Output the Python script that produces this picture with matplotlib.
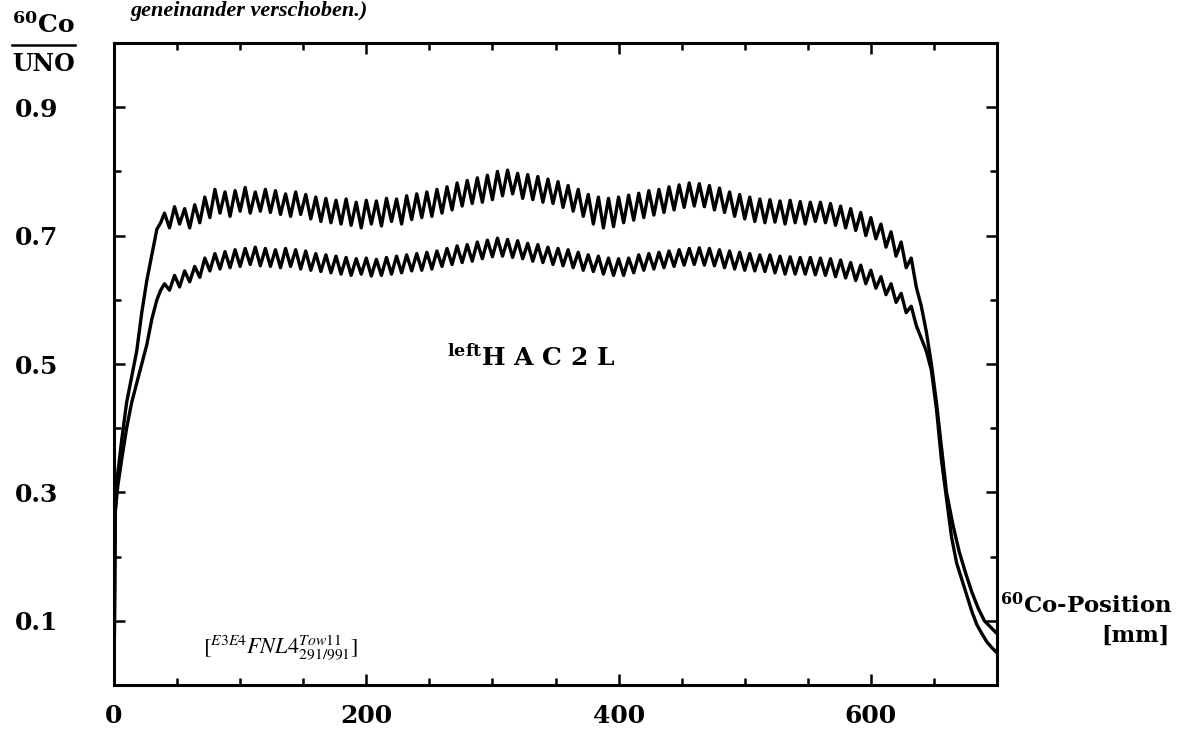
import numpy as np
import matplotlib
matplotlib.use("Agg")
import matplotlib.pyplot as plt
from matplotlib.ticker import MultipleLocator, FixedLocator

plt.rcParams['mathtext.fontset'] = 'dejavuserif'
plt.rcParams['font.family'] = 'DejaVu Serif'

# ---------------- data ----------------
# rising edge
rise_x = [0, 1, 3, 6, 10, 14, 18, 22, 26, 30, 34, 37]
rise_upper = [0.0, 0.27, 0.33, 0.38, 0.44, 0.48, 0.52, 0.58, 0.63, 0.67, 0.71, 0.72]
rise_lower = [0.0, 0.27, 0.31, 0.35, 0.40, 0.44, 0.47, 0.50, 0.53, 0.57, 0.60, 0.615]

# plateau ripple: peaks at 40,48,...,632 ; troughs at 44,52,...,636
peak_x = np.arange(40, 633, 8)
trough_x = np.arange(44, 637, 8)

upper_peaks = [0.735, 0.745, 0.742, 0.748, 0.760, 0.772, 0.768, 0.770, 0.775, 0.768,
               0.772, 0.770, 0.765, 0.768, 0.764, 0.760, 0.758, 0.755, 0.757, 0.752,
               0.755, 0.754, 0.758, 0.757, 0.762, 0.765, 0.768, 0.772, 0.776, 0.782,
               0.786, 0.790, 0.794, 0.800, 0.802, 0.797, 0.795, 0.792, 0.788, 0.784,
               0.778, 0.772, 0.764, 0.760, 0.758, 0.760, 0.763, 0.766, 0.770, 0.772,
               0.776, 0.779, 0.782, 0.781, 0.778, 0.774, 0.768, 0.764, 0.760, 0.757,
               0.756, 0.754, 0.755, 0.753, 0.752, 0.752, 0.750, 0.746, 0.742, 0.736,
               0.728, 0.718, 0.706, 0.690, 0.665]
upper_troughs = [0.712, 0.718, 0.712, 0.720, 0.728, 0.735, 0.730, 0.738, 0.735, 0.738,
                 0.736, 0.733, 0.730, 0.733, 0.726, 0.722, 0.720, 0.718, 0.716, 0.712,
                 0.718, 0.715, 0.722, 0.718, 0.725, 0.728, 0.730, 0.735, 0.740, 0.746,
                 0.750, 0.752, 0.756, 0.762, 0.765, 0.758, 0.756, 0.752, 0.750, 0.744,
                 0.738, 0.730, 0.718, 0.712, 0.714, 0.720, 0.724, 0.728, 0.732, 0.736,
                 0.740, 0.744, 0.746, 0.745, 0.740, 0.736, 0.730, 0.726, 0.722, 0.720,
                 0.721, 0.718, 0.720, 0.718, 0.722, 0.720, 0.716, 0.712, 0.708, 0.700,
                 0.695, 0.682, 0.668, 0.650, 0.620]
lower_peaks = [0.625, 0.638, 0.645, 0.652, 0.665, 0.672, 0.675, 0.678, 0.680, 0.682,
               0.680, 0.678, 0.680, 0.678, 0.676, 0.672, 0.670, 0.668, 0.666, 0.664,
               0.665, 0.663, 0.666, 0.668, 0.670, 0.672, 0.674, 0.676, 0.680, 0.684,
               0.686, 0.690, 0.693, 0.696, 0.694, 0.692, 0.688, 0.686, 0.682, 0.680,
               0.678, 0.674, 0.670, 0.668, 0.665, 0.664, 0.665, 0.670, 0.672, 0.674,
               0.676, 0.678, 0.680, 0.681, 0.680, 0.678, 0.676, 0.674, 0.672, 0.670,
               0.670, 0.668, 0.667, 0.666, 0.666, 0.665, 0.664, 0.662, 0.658, 0.654,
               0.646, 0.636, 0.625, 0.610, 0.590]
lower_troughs = [0.615, 0.620, 0.628, 0.635, 0.645, 0.648, 0.650, 0.652, 0.655, 0.653,
                 0.652, 0.650, 0.652, 0.648, 0.646, 0.644, 0.642, 0.640, 0.638, 0.640,
                 0.637, 0.638, 0.640, 0.642, 0.645, 0.646, 0.648, 0.652, 0.655, 0.658,
                 0.660, 0.664, 0.667, 0.668, 0.666, 0.664, 0.660, 0.658, 0.655, 0.653,
                 0.650, 0.646, 0.644, 0.640, 0.638, 0.638, 0.642, 0.646, 0.648, 0.650,
                 0.652, 0.654, 0.655, 0.654, 0.653, 0.650, 0.648, 0.646, 0.645, 0.644,
                 0.642, 0.640, 0.640, 0.640, 0.639, 0.638, 0.636, 0.634, 0.630, 0.625,
                 0.618, 0.608, 0.596, 0.580, 0.560]

# falling edge
fall_x_upper = [640, 644, 648, 652, 656, 660, 665, 670, 675, 680, 685, 690, 695, 700]
fall_upper = [0.59, 0.55, 0.50, 0.44, 0.37, 0.30, 0.25, 0.208, 0.175, 0.145, 0.12, 0.10, 0.09, 0.08]
fall_x_lower = [640, 644, 648, 652, 656, 660, 664, 668, 672, 676, 680, 684, 688, 692, 696, 700]
fall_lower = [0.54, 0.52, 0.49, 0.43, 0.35, 0.29, 0.23, 0.19, 0.165, 0.14, 0.115, 0.094, 0.08, 0.067, 0.058, 0.05]

x_ticks = [0, 200, 400, 600]
y_ticks = [0.1, 0.3, 0.5, 0.7, 0.9]


def build(rx, ry, px_, pv, tx, tv, fx, fy):
    mx = np.empty(len(px_) + len(tx))
    mv = np.empty(len(px_) + len(tx))
    mx[0::2] = px_
    mx[1::2] = tx
    mv[0::2] = pv
    mv[1::2] = tv
    return (np.concatenate([rx, mx, fx]), np.concatenate([ry, mv, fy]))


ux, uy = build(rise_x, rise_upper, peak_x, upper_peaks, trough_x, upper_troughs,
               fall_x_upper, fall_upper)
lx, ly = build(rise_x, rise_lower, peak_x, lower_peaks, trough_x, lower_troughs,
               fall_x_lower, fall_lower)

# ---------------- figure ----------------
fig = plt.figure(figsize=(11.85, 7.37), dpi=100)
ax = fig.add_axes([114 / 1185, 1 - 685 / 737, (997 - 114) / 1185, (685 - 43) / 737])

ax.plot(ux, uy, color='black', lw=2.4, solid_joinstyle='round')
ax.plot(lx, ly, color='black', lw=2.4, solid_joinstyle='round')

ax.set_xlim(0, 700)
ax.set_ylim(0, 1.0)

for s in ax.spines.values():
    s.set_linewidth(2.2)

ax.xaxis.set_major_locator(FixedLocator(x_ticks))
ax.xaxis.set_minor_locator(MultipleLocator(50))
ax.yaxis.set_major_locator(FixedLocator(y_ticks))
ax.yaxis.set_minor_locator(MultipleLocator(0.1))
ax.set_xticklabels([str(v) for v in x_ticks], fontsize=18, fontweight='bold')
ax.set_yticklabels(['%.1f' % v for v in y_ticks], fontsize=18, fontweight='bold')
ax.tick_params(which='both', direction='in', top=True, right=True, width=1.8)
ax.tick_params(which='major', length=8)
ax.tick_params(which='minor', length=5)
ax.tick_params(axis='y', which='major', pad=40)
ax.tick_params(axis='x', which='major', pad=14)

# annotations inside
fig.text(447 / 1185, 1 - 358 / 737, r'$^{\mathbf{left}}$H A C 2 L',
         fontsize=18, fontweight='bold', ha='left', va='center')
fig.text(203 / 1185, 1 - 648 / 737, r'$[^{E3E4}FNL4^{Tow11}_{291/991}]$',
         fontsize=16, math_fontfamily='stix', ha='left', va='center')

# y-axis label as fraction
fig.text(43 / 1185, 1 - 25 / 737, r'$^{\mathbf{60}}$Co', fontsize=18, fontweight='bold',
         ha='center', va='center')
fig.add_artist(plt.Line2D([12 / 1185, 75 / 1185], [1 - 45 / 737, 1 - 45 / 737],
                          transform=fig.transFigure, color='black', lw=1.8))
fig.text(44 / 1185, 1 - 64 / 737, 'UNO', fontsize=17, fontweight='bold', ha='center', va='center')

# x-axis label
fig.text(1000 / 1185, 1 - 606 / 737, r'$^{\mathbf{60}}$Co-Position', fontsize=16.5, fontweight='bold',
         ha='left', va='center')
fig.text(1135 / 1185, 1 - 636 / 737, '[mm]', fontsize=16, fontweight='bold', ha='center', va='center')

# caption fragment at top
fig.text(130 / 1185, 1 - 16 / 737, 'geneinander verschoben.)', fontsize=16,
         family='Liberation Serif', weight='bold', style='italic', ha='left', va='baseline')

fig.savefig('out.png', dpi=100)
